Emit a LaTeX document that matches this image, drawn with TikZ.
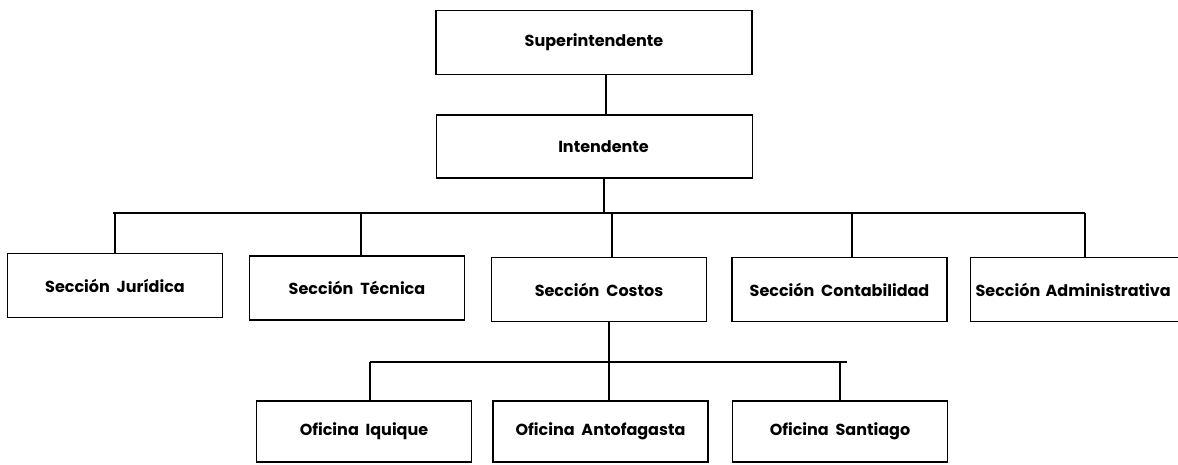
\documentclass[tikz,border=0pt]{standalone}
\usepackage{fontspec}
\setmainfont{Poppins}[BoldFont={Poppins Bold}]
\begin{document}
\begin{tikzpicture}[x=1pt,y=-1pt,
  box/.style={draw=black,line width=1.2pt,minimum width=215pt,minimum height=64pt,inner sep=0pt,
    font=\fontsize{16}{18}\selectfont\bfseries,text=black},
  topbox/.style={box,minimum width=316pt,minimum height=64pt},
  conn/.style={draw=black,line width=1.2pt}]
\useasboundingbox (0,0) rectangle (1178,464);
% top level
\node[topbox] (sup) at (594,42.5) {Superintendente};
\node[topbox,minimum height=63pt] (int) at (594.5,146.5) {\hspace*{18pt}Intendente};
% second level
\node[box] (jur) at (115,285.5) {Sección\ \ Jurídica};
\node[box] (tec) at (357,288) {Sección\ \ Técnica};
\node[box] (cos) at (599,289.5) {Sección\ \ Costos};
\node[box] (con) at (839.5,289.5) {Sección\ \ Contabilidad};
\node[box,anchor=west,text width=225pt,align=left,inner xsep=5pt] (adm) at (970,289.5) {Sección\ Administrativa};
% third level
\node[box,minimum height=61pt] (iqu) at (364,431.5) {Oficina\ \ Iquique};
\node[box,minimum height=61pt] (ant) at (600.5,431.5) {Oficina\ \ Antofagasta};
\node[box,minimum height=61pt] (san) at (840,431.5) {Oficina\ \ Santiago};
% bus coordinates
\coordinate (bA) at (113,213);
\coordinate (bB) at (1085,213);
\coordinate (b1) at (115,213);
\coordinate (b2) at (361,213);
\coordinate (b3) at (612,213);
\coordinate (b4) at (852,213);
\coordinate (b5) at (1085,213);
\coordinate (cA) at (370,362);
\coordinate (cB) at (847,362);
\coordinate (c1) at (370,362);
\coordinate (c2) at (609,362);
\coordinate (c3) at (840,362);
% connectors
\draw[conn] (sup.south -| 606,0) -- (int.north -| 606,0);
\draw[conn] (int.south -| 604,0) -- (604,213);
\draw[conn] (bA) -- (bB);
\foreach \b/\n in {b1/jur,b2/tec,b3/cos,b4/con,b5/adm}{
  \draw[conn] (\b) -- (\b |- \n.north);
}
\draw[conn] (cos.south -| c2) -- (c2);
\draw[conn] (cA) -- (cB);
\foreach \c/\n in {c1/iqu,c2/ant,c3/san}{
  \draw[conn] (\c) -- (\c |- \n.north);
}
\end{tikzpicture}
\end{document}
